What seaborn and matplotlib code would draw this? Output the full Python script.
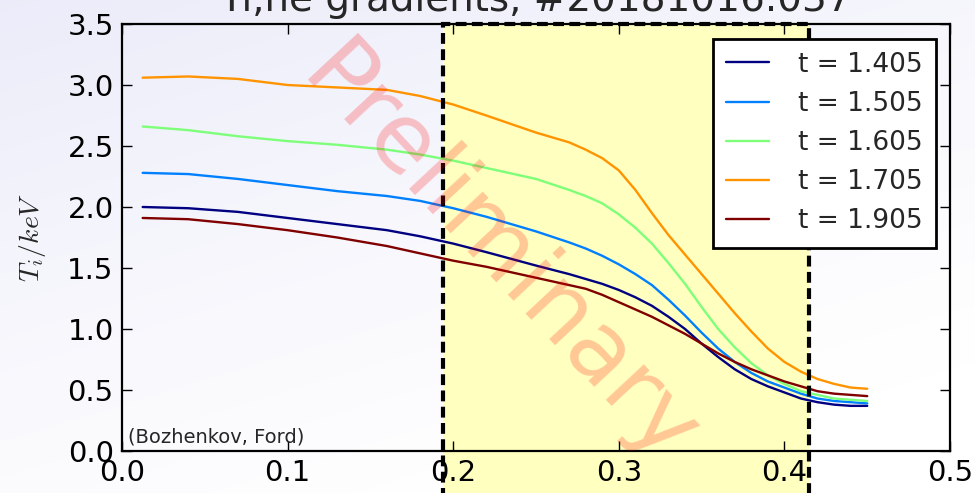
import numpy as np
import pandas as pd
import matplotlib
matplotlib.use("Agg")
import matplotlib.pyplot as plt
import matplotlib.transforms as mtransforms
from matplotlib.patches import Rectangle
import seaborn as sns

# Normalised radius of the profiles
rho = [0.0125, 0.04, 0.07, 0.10, 0.13, 0.16, 0.18, 0.20, 0.22, 0.25, 0.27,
       0.28, 0.29, 0.30, 0.31, 0.32, 0.33, 0.34, 0.35, 0.36, 0.37, 0.38,
       0.39, 0.40, 0.41, 0.42, 0.43, 0.44, 0.45]

# Ion temperature profiles (keV) at each time slice
ti_1405 = [2.00, 1.99, 1.96, 1.91, 1.86, 1.81, 1.76, 1.70, 1.63, 1.52, 1.45,
           1.41, 1.37, 1.32, 1.26, 1.19, 1.10, 1.00, 0.88, 0.77, 0.67, 0.59,
           0.53, 0.48, 0.43, 0.40, 0.38, 0.37, 0.37]
ti_1505 = [2.28, 2.27, 2.23, 2.18, 2.13, 2.09, 2.05, 1.99, 1.92, 1.80, 1.71,
           1.66, 1.60, 1.53, 1.45, 1.36, 1.24, 1.11, 0.97, 0.84, 0.73, 0.64,
           0.57, 0.52, 0.47, 0.43, 0.41, 0.40, 0.39]
ti_1605 = [2.66, 2.63, 2.58, 2.54, 2.51, 2.47, 2.43, 2.38, 2.32, 2.23, 2.14,
           2.09, 2.03, 1.94, 1.83, 1.70, 1.54, 1.37, 1.18, 1.00, 0.85, 0.72,
           0.62, 0.55, 0.49, 0.46, 0.43, 0.42, 0.41]
ti_1705 = [3.06, 3.07, 3.05, 3.00, 2.98, 2.96, 2.91, 2.84, 2.75, 2.61, 2.53,
           2.47, 2.40, 2.30, 2.14, 1.95, 1.77, 1.61, 1.45, 1.29, 1.13, 0.98,
           0.84, 0.73, 0.65, 0.59, 0.55, 0.52, 0.51]
ti_1905 = [1.91, 1.90, 1.86, 1.81, 1.75, 1.68, 1.62, 1.56, 1.51, 1.42, 1.36,
           1.33, 1.28, 1.22, 1.16, 1.10, 1.03, 0.96, 0.88, 0.80, 0.73, 0.67,
           0.62, 0.57, 0.53, 0.49, 0.47, 0.46, 0.45]

labels = ["t = 1.405", "t = 1.505", "t = 1.605", "t = 1.705", "t = 1.905"]
colors = ["#000080", "#0080ff", "#7dff7a", "#ff9400", "#800000"]

# Gradient region boundaries
region = (0.194, 0.415)

xticks = [0.0, 0.1, 0.2, 0.3, 0.4, 0.5]
yticks = [0.0, 0.5, 1.0, 1.5, 2.0, 2.5, 3.0, 3.5]

series = [ti_1405, ti_1505, ti_1605, ti_1705, ti_1905]
df = pd.concat(
    [pd.DataFrame({"rho": rho, "Ti": v, "time": lab}) for v, lab in zip(series, labels)],
    ignore_index=True,
)

sns.set_theme(style="ticks")
plt.rcParams["font.family"] = ["DejaVu Sans"]
plt.rcParams["mathtext.fontset"] = "cm"
plt.rcParams["lines.solid_joinstyle"] = "round"

fig = plt.figure(figsize=(9.75, 4.93), dpi=100)

# soft lavender-to-white backdrop
bg = fig.add_axes([0, 0, 1, 1], zorder=-10)
yy, xx = np.mgrid[0:1:200j, 0:1:400j]
w = np.clip(0.75 * yy + 0.45 * (1 - xx) - 0.2, 0, 1) ** 1.2
top = np.array([0.925, 0.925, 0.98])
img = top[None, None, :] * w[..., None] + np.ones(3)[None, None, :] * (1 - w[..., None])
bg.imshow(img, origin="lower", extent=[0, 1, 0, 1], aspect="auto")
bg.set_axis_off()

ax = fig.add_axes([0.1251, 0.0852, 0.8493, 0.8661])
ax.patch.set_alpha(0)

# highlighted gradient region with dashed outline
trans = mtransforms.blended_transform_factory(ax.transData, ax.transAxes)
ax.add_patch(Rectangle((region[0], -0.2), region[1] - region[0], 1.2,
                       transform=trans, facecolor=(1, 1, 0.75), edgecolor="none",
                       clip_on=False, zorder=0.5))
ax.add_patch(Rectangle((region[0], -0.2), region[1] - region[0], 1.2,
                       transform=trans, facecolor="none", edgecolor="black",
                       linewidth=3, linestyle=(0, (2.6, 1.3)), clip_on=False, zorder=3))

sns.lineplot(data=df, x="rho", y="Ti", hue="time", palette=colors,
             linewidth=1.7, ax=ax, zorder=2, legend=True)

ax.set_xlim(0, 0.5)
ax.set_ylim(0, 3.5)
ax.set_xticks(xticks)
ax.set_yticks(yticks)
ax.set_xticklabels([f"{t:.1f}" for t in xticks])
ax.set_yticklabels([f"{t:.1f}" for t in yticks])
ax.tick_params(direction="in", length=7, width=1, labelsize=21, top=True, right=True,
               colors="black", pad=6)
for s in ax.spines.values():
    s.set_linewidth(1.6)
    s.set_color("black")
    s.set_zorder(4)

ax.set_xlabel("")
ax.set_ylabel(r"$T_i/keV$", fontsize=20, labelpad=14)

ax.text(0.007, 0.021, "(Bozhenkov, Ford)", transform=ax.transAxes, fontsize=14,
        va="baseline", ha="left", zorder=5)

ax.text(0.455, 0.455, "Preliminary", transform=ax.transAxes, fontsize=68,
        color="red", alpha=0.22, rotation=-47, ha="center", va="center",
        rotation_mode="anchor", zorder=6)

leg = ax.legend(loc="upper right", fontsize=19, frameon=True, fancybox=False,
                framealpha=1, edgecolor="black", handlelength=1.6,
                handletextpad=1.1, borderpad=0.5, labelspacing=0.5,
                borderaxespad=0.55)
leg.get_frame().set_linewidth(2)
leg.set_zorder(7)

fig.text(0.549, 1 - 11 / 493, "Ti,ne gradients, #20181016.037", fontsize=28,
         ha="center", va="baseline")

fig.savefig("out.png", dpi=100)
